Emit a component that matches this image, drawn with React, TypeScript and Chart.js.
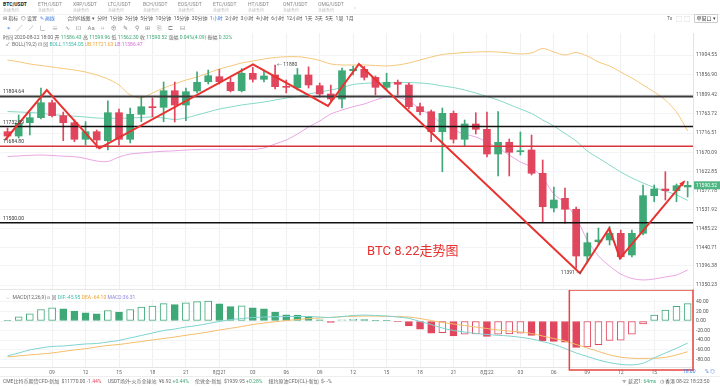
import React, { useEffect, useRef } from 'react';
import { Chart, registerables } from 'chart.js';

Chart.register(...registerables);

const FONT = 'Roboto, "Noto Sans CJK SC", sans-serif';
const GREEN = '#3fa877';
const RED = '#e0465d';

// 1h candles, 2020-08-20 05:00 .. 2020-08-22 18:00
const OPEN = [11719.7, 11709.3, 11741.4, 11753.5, 11789.6, 11758.3, 11741.4, 11701.4, 11719.7, 11698.0, 11765.5, 11701.4, 11761.6, 11779.9, 11778.5, 11818.5, 11784.1, 11817.8, 11840.2, 11852.3, 11838.8, 11818.5, 11860.5, 11846.0, 11856.4, 11828.2, 11825.7, 11856.4, 11830.6, 11810.6, 11798.5, 11866.7, 11870.1, 11850.8, 11826.7, 11838.8, 11832.3, 11779.9, 11767.9, 11719.7, 11764.0, 11701.4, 11738.3, 11725.5, 11666.0, 11694.2, 11671.6, 11675.6, 11619.5, 11535.8, 11559.2, 11532.7, 11420.1, 11454.5, 11458.7, 11474.8, 11422.6, 11474.8, 11565.5, 11581.6, 11577.5, 11586.43];
const HIGH = [11728.6, 11760.0, 11764.8, 11825.0, 11796.1, 11767.2, 11747.9, 11743.8, 11723.8, 11794.4, 11774.4, 11776.8, 11804.0, 11801.0, 11839.5, 11839.5, 11825.0, 11864.3, 11868.4, 11870.0, 11849.1, 11872.0, 11875.0, 11868.4, 11880.4, 11844.3, 11872.0, 11876.0, 11837.1, 11832.3, 11873.2, 11878.0, 11877.0, 11854.0, 11860.5, 11844.3, 11837.1, 11788.9, 11772.0, 11776.8, 11769.6, 11747.9, 11765.5, 11767.2, 11768.0, 11702.1, 11719.0, 11711.8, 11651.5, 11586.4, 11584.0, 11538.2, 11475.6, 11487.6, 11490.7, 11482.8, 11482.8, 11591.2, 11591.2, 11623.3, 11593.7, 11599.96];
const LOW = [11704.5, 11704.5, 11711.8, 11750.3, 11755.1, 11698.0, 11695.6, 11687.7, 11680.4, 11675.6, 11687.7, 11692.5, 11743.8, 11755.8, 11743.8, 11743.1, 11746.2, 11813.0, 11834.7, 11834.7, 11815.4, 11815.4, 11839.5, 11839.5, 11822.6, 11813.0, 11820.2, 11825.0, 11803.3, 11791.3, 11776.8, 11856.4, 11844.3, 11808.2, 11820.2, 11808.2, 11774.4, 11760.0, 11695.6, 11623.3, 11692.5, 11683.6, 11714.2, 11658.7, 11613.0, 11613.0, 11663.6, 11615.4, 11502.8, 11526.2, 11499.0, 11391.0, 11403.3, 11446.7, 11446.7, 11412.9, 11417.7, 11470.8, 11551.0, 11555.1, 11551.0, 11562.30];
const CLOSE = [11709.3, 11739.9, 11753.5, 11789.6, 11758.3, 11741.4, 11701.4, 11719.7, 11699.7, 11765.5, 11701.4, 11761.6, 11779.9, 11777.6, 11818.5, 11784.1, 11816.1, 11838.8, 11854.7, 11840.2, 11818.5, 11860.5, 11846.0, 11854.0, 11828.2, 11826.7, 11856.4, 11832.3, 11810.6, 11798.5, 11866.7, 11870.1, 11850.8, 11826.7, 11838.8, 11834.0, 11779.9, 11767.9, 11719.7, 11764.0, 11701.4, 11738.3, 11725.5, 11666.0, 11694.2, 11670.1, 11674.0, 11619.5, 11539.0, 11555.1, 11532.7, 11420.1, 11452.2, 11458.7, 11474.8, 11418.5, 11474.8, 11565.5, 11581.6, 11577.5, 11589.6, 11590.52];

// BOLL(19,2)
const BOLL_UB = [11892.5, 11888.4, 11882.9, 11879.2, 11875.6, 11872.0, 11868.4, 11863.6, 11856.4, 11846.7, 11832.3, 11808.2, 11800.9, 11813.0, 11825.0, 11834.7, 11844.3, 11851.5, 11861.2, 11870.8, 11878.1, 11885.3, 11890.1, 11894.9, 11898.5, 11900.5, 11900.5, 11897.3, 11891.3, 11882.9, 11880.5, 11880.5, 11880.5, 11879.2, 11878.1, 11880.5, 11885.3, 11892.5, 11899.7, 11905.8, 11908.2, 11910.6, 11911.8, 11912.5, 11911.8, 11909.4, 11907.0, 11909.4, 11920.2, 11911.8, 11904.6, 11910.6, 11902.1, 11887.7, 11878.1, 11863.6, 11849.1, 11832.3, 11815.4, 11796.1, 11767.2, 11721.63];
const BOLL_MB = [11768.4, 11767.2, 11766.0, 11764.0, 11761.2, 11758.8, 11757.1, 11755.1, 11752.7, 11752.0, 11752.0, 11752.7, 11753.9, 11755.1, 11752.7, 11749.1, 11752.7, 11760.0, 11767.2, 11774.4, 11779.2, 11784.1, 11787.7, 11791.3, 11796.1, 11800.9, 11804.5, 11810.6, 11815.4, 11820.2, 11826.2, 11833.5, 11836.3, 11837.1, 11837.1, 11838.3, 11838.3, 11837.1, 11834.7, 11829.9, 11826.2, 11820.2, 11813.0, 11804.5, 11796.1, 11785.3, 11774.4, 11763.6, 11747.9, 11733.4, 11715.4, 11697.3, 11673.2, 11656.3, 11639.5, 11622.6, 11608.1, 11596.1, 11585.2, 11576.8, 11567.2, 11554.05];
const BOLL_LB = [11660.0, 11661.2, 11662.8, 11663.6, 11662.4, 11660.7, 11659.5, 11655.1, 11649.1, 11647.9, 11658.7, 11666.0, 11668.4, 11670.8, 11672.5, 11673.7, 11675.6, 11676.8, 11677.3, 11677.3, 11677.3, 11677.3, 11676.8, 11680.4, 11690.1, 11699.7, 11714.2, 11731.0, 11745.5, 11762.4, 11772.0, 11780.0, 11786.5, 11796.1, 11803.3, 11802.1, 11793.7, 11774.4, 11760.0, 11738.3, 11723.8, 11714.2, 11707.0, 11694.9, 11680.4, 11663.6, 11646.7, 11634.7, 11608.1, 11569.6, 11547.9, 11511.7, 11458.7, 11420.1, 11396.0, 11376.7, 11365.9, 11362.3, 11364.7, 11369.5, 11374.3, 11386.47];

// MACD(12,26,9)
const MACD_HIST = [1, 9, 15, 24, 27.5, 25.4, 20.6, 17, 15, 22, 18.6, 24, 28.9, 31, 36.4, 34.4, 37.8, 40.5, 41.5, 35.7, 30.2, 31.6, 27.5, 25.4, 18.6, 13, 12.5, 9.6, 2.7, -2.7, 2.7, 3.7, 3.2, 0.8, 0.5, -1.5, -10.3, -17, -25.4, -24.5, -31, -27.5, -27, -32.3, -27.5, -27, -25.4, -30.2, -41.2, -42.6, -44, -55, -54, -49.5, -40.5, -40, -27.5, -6.2, 12.4, 22.7, 30.9, 36.31];
const DIF = [-72.9, -66.7, -60.4, -56.3, -53.1, -52.1, -50, -47.9, -46.9, -43.8, -40.6, -35.4, -30.2, -25, -19.8, -16.7, -12.5, -9.4, -5.2, -1, 3.1, 5.2, 7.3, 8.3, 9, 9.4, 9.4, 9.4, 8.3, 7.3, 9.4, 11.5, 12.5, 11.5, 10.4, 8.3, 5.6, -1, -7.3, -14.6, -19.8, -22.9, -26, -28.1, -29.8, -31.3, -34, -37.5, -43.1, -49, -57.3, -66.7, -74, -81.3, -86.9, -90.6, -91.7, -88.1, -77.1, -66.7, -56.9, -45.95];
const DEA = [-75, -72.9, -70.8, -68.8, -66.7, -63.5, -60.4, -57.7, -54.2, -51, -49, -45.8, -42.7, -39.6, -36.5, -33.3, -29.8, -26.5, -22.9, -18.8, -15.2, -11.5, -7.3, -4.2, -1.5, 1, 3.1, 5.2, 6.3, 7.7, 9, 9.8, 10.4, 10.4, 9.8, 9.4, 8.3, 5.2, 1, -3.1, -6.3, -9.4, -12.5, -15.6, -18.8, -20.8, -22.9, -26, -31.3, -36.5, -41.7, -49, -56.3, -63.5, -70.8, -75.6, -77.7, -78.1, -77.7, -76, -70.8, -64.1];

const PRICE_TICKS = [11904.55, 11856.90, 11809.42, 11763.72, 11716.51, 11670.09, 11622.85, 11577.78, 11531.92, 11485.22, 11440.71, 11396.38, 11350.23];
const MACD_TICKS = [40, 20, 0, -20, -40, -60, -80];
const TIME_TICK_INDEX = [4, 7, 10, 13, 16, 19, 22, 25, 28, 31, 34, 37, 40, 43, 46, 49, 52, 55, 58];
const TIME_TICK_LABELS = ['09', '12', '15', '18', '21', '8月21', '03', '06', '09', '12', '15', '18', '21', '8月22', '03', '06', '09', '12', '15'];

// drawn annotations
const LEVELS = [11804.64, 11732.09, 11684.80, 11500.00];
const LEVEL_COLORS = ['#3a3a3a', '#111111', '#d8343c', '#111111'];
const LEVEL_WIDTHS = [2, 1.5, 1.5, 1.5];
const ZZ_X = [-0.22, 3.52, 8.23, 22.02, 28.74, 31.52, 51.34, 53.97, 54.93, 60.67];
const ZZ_Y = [11699.7, 11820.2, 11679.7, 11882.1, 11781.7, 11882.9, 11378.4, 11486.9, 11414.6, 11599.2];
const BOX_START = 50.39;

const X_MIN = -0.673;
const X_MAX = 61.48;
const Y_MIN = 11340.6;
const Y_MAX = 11957.6;
const MACD_MIN = -96;
const MACD_MAX = 46;

const noPad = (s: any) => {
  s.paddingTop = 0;
  s.paddingBottom = 0;
  s.paddingLeft = 0;
  s.paddingRight = 0;
};

const mainOverlay = {
  id: 'mainOverlay',
  afterDatasetsDraw(chart: any) {
    const { ctx, scales } = chart;
    const xs = scales.x, ys = scales.y;
    ctx.save();
    ctx.font = `5px ${FONT}`;
    ctx.textAlign = 'left';
    ctx.textBaseline = 'alphabetic';
    LEVELS.forEach((lv) => {
      ctx.fillStyle = '#333';
      ctx.fillText(lv.toFixed(2), 3, ys.getPixelForValue(lv) - 3);
    });
    const hi = HIGH.indexOf(Math.max(...HIGH));
    ctx.fillStyle = '#444';
    ctx.textBaseline = 'middle';
    ctx.fillText('← ' + HIGH[hi].toFixed(0), xs.getPixelForValue(hi) + 2, ys.getPixelForValue(HIGH[hi]));
    const lo = LOW.indexOf(Math.min(...LOW));
    ctx.textAlign = 'right';
    ctx.textBaseline = 'top';
    ctx.fillText(LOW[lo].toFixed(0) + ' →', xs.getPixelForValue(lo) + 5, ys.getPixelForValue(LOW[lo]) + 2);
    const n = ZZ_X.length;
    const x1 = xs.getPixelForValue(ZZ_X[n - 2]), y1 = ys.getPixelForValue(ZZ_Y[n - 2]);
    const x2 = xs.getPixelForValue(ZZ_X[n - 1]), y2 = ys.getPixelForValue(ZZ_Y[n - 1]);
    const a = Math.atan2(y2 - y1, x2 - x1);
    ctx.fillStyle = '#e8322f';
    ctx.beginPath();
    ctx.moveTo(x2 + Math.cos(a) * 2, y2 + Math.sin(a) * 2);
    ctx.lineTo(x2 - Math.cos(a - 0.5) * 5, y2 - Math.sin(a - 0.5) * 5);
    ctx.lineTo(x2 - Math.cos(a + 0.5) * 5, y2 - Math.sin(a + 0.5) * 5);
    ctx.closePath();
    ctx.fill();
    ctx.restore();
  },
  afterDraw(chart: any) {
    const { ctx, scales } = chart;
    const last = CLOSE.length - 1;
    const ys = scales.y;
    const y = ys.getPixelForValue(CLOSE[last]);
    ctx.save();
    ctx.fillStyle = '#4db683';
    ctx.fillRect(ys.left + 1, y - 4, 26, 8);
    ctx.fillStyle = '#fff';
    ctx.font = `5px ${FONT}`;
    ctx.textBaseline = 'middle';
    ctx.textAlign = 'left';
    ctx.fillText(CLOSE[last].toFixed(2), ys.left + 3, y);
    ctx.restore();
  },
};

const macdOverlay = {
  id: 'macdOverlay',
  afterDraw(chart: any) {
    const { ctx, scales } = chart;
    const xs = scales.x, ys = scales.y;
    const bottom = ys.getPixelForValue(MACD_MIN);
    ctx.save();
    ctx.font = `5px ${FONT}`;
    ctx.fillStyle = '#666';
    ctx.textAlign = 'center';
    ctx.textBaseline = 'top';
    TIME_TICK_INDEX.forEach((v, k) => {
      ctx.fillText(TIME_TICK_LABELS[k], xs.getPixelForValue(v), bottom + 3);
    });
    const left = xs.getPixelForValue(BOX_START);
    ctx.strokeStyle = '#e8443f';
    ctx.lineWidth = 1.5;
    ctx.strokeRect(left, 1, ys.left - left, bottom + 2);
    ctx.restore();
  },
};

const T = (p: { x: number; y: number; s?: number; c?: string; w?: number; children: any }) => (
  <div
    style={{
      position: 'absolute',
      left: p.x,
      top: p.y,
      fontSize: p.s || 5,
      color: p.c || '#555',
      fontWeight: p.w || 400,
      whiteSpace: 'nowrap',
      lineHeight: 1,
    }}
  >
    {p.children}
  </div>
);

const TABS = ['BTC/USDT', 'ETH/USDT', 'XRP/USDT', 'LTC/USDT', 'BCH/USDT', 'EOS/USDT', 'ETC/USDT', 'HT/USDT', 'ONT/USDT', 'OMG/USDT'];
const PERIODS = ['分时', '1分钟', '3分钟', '5分钟', '10分钟', '15分钟', '30分钟', '1小时', '2小时', '3小时', '4小时', '6小时', '12小时', '1天', '3天', '5天', '1周', '1月'];
const TOOLS = ['⌖', '╱', '⟋', '∟', '≡', '∿', '⊡', 'Aa', '⌗', '⊕', '✎', '⚲', '⊞', '⎘', '⊏', '⊟'];

export default function App() {
  const mainRef = useRef<HTMLCanvasElement>(null);
  const macdRef = useRef<HTMLCanvasElement>(null);

  useEffect(() => {
    document.body.style.margin = '0';
    const idx = OPEN.map((_, i) => i);
    const candleColors = idx.map((i) => (CLOSE[i] >= OPEN[i] ? GREEN : RED));
    const line = (arr: number[], color: string, order: number) => ({
      type: 'line' as const,
      data: idx.map((i) => ({ x: i, y: arr[i] })),
      borderColor: color,
      borderWidth: 1,
      pointRadius: 0,
      tension: 0.3,
      order,
    });

    const main = new Chart(mainRef.current!, {
      type: 'line',
      data: {
        datasets: [
          {
            type: 'line',
            data: ZZ_X.map((x, k) => ({ x, y: ZZ_Y[k] })),
            borderColor: '#e8322f',
            borderWidth: 2,
            pointRadius: 0,
            tension: 0,
            order: 0,
          },
          ...LEVELS.map((lv, k) => ({
            type: 'line' as const,
            data: [
              { x: X_MIN - 1, y: lv },
              { x: X_MAX + 1, y: lv },
            ],
            borderColor: LEVEL_COLORS[k],
            borderWidth: LEVEL_WIDTHS[k],
            pointRadius: 0,
            order: 1,
          })),
          {
            type: 'bar',
            data: idx.map((i) => ({ x: i, y: [OPEN[i], CLOSE[i]] })),
            backgroundColor: candleColors,
            borderWidth: 0,
            barThickness: 7,
            minBarLength: 1,
            grouped: false,
            order: 2,
          } as any,
          {
            type: 'bar',
            data: idx.map((i) => ({ x: i, y: [LOW[i], HIGH[i]] })),
            backgroundColor: candleColors,
            borderWidth: 0,
            barThickness: 1,
            grouped: false,
            order: 3,
          } as any,
          line(BOLL_UB, '#f6c77a', 4),
          line(BOLL_MB, '#86d8c6', 4),
          line(BOLL_LB, '#eaa5e3', 4),
        ],
      },
      options: {
        animation: false,
        responsive: false,
        maintainAspectRatio: false,
        events: [],
        layout: { padding: 0, autoPadding: false },
        plugins: { legend: { display: false }, tooltip: { enabled: false } },
        scales: {
          x: {
            type: 'linear',
            min: X_MIN,
            max: X_MAX,
            offset: false,
            afterBuildTicks: (s: any) => {
              s.ticks = TIME_TICK_INDEX.map((v) => ({ value: v }));
            },
            ticks: { display: false },
            grid: { color: '#eef0f3', offset: false, tickLength: 0, tickColor: 'transparent' },
            border: { display: false },
            afterFit: (s: any) => {
              s.height = 0;
              noPad(s);
            },
          },
          y: {
            position: 'right',
            min: Y_MIN,
            max: Y_MAX,
            afterBuildTicks: (s: any) => {
              s.ticks = PRICE_TICKS.map((v) => ({ value: v }));
            },
            ticks: {
              font: { size: 5, family: FONT },
              color: '#555',
              callback: (v: any) => Number(v).toFixed(2),
            },
            grid: { color: '#f3f4f6', tickLength: 0, tickColor: 'transparent' },
            border: { color: '#e3e3e3' },
            afterFit: (s: any) => {
              s.width = 27;
              noPad(s);
            },
          },
        },
      } as any,
      plugins: [mainOverlay],
    });

    const histFill = idx.map((i) => {
      const v = MACD_HIST[i];
      const prev = i > 0 ? MACD_HIST[i - 1] : v;
      return v > prev ? '#ffffff' : v >= 0 ? GREEN : RED;
    });
    const histBorder = idx.map((i) => (MACD_HIST[i] >= 0 ? GREEN : RED));

    const macd = new Chart(macdRef.current!, {
      type: 'line',
      data: {
        datasets: [
          { type: 'line', data: idx.map((i) => ({ x: i, y: DIF[i] })), borderColor: '#7dd3cf', borderWidth: 1, pointRadius: 0, tension: 0.3, order: 0 },
          { type: 'line', data: idx.map((i) => ({ x: i, y: DEA[i] })), borderColor: '#f4bd6a', borderWidth: 1, pointRadius: 0, tension: 0.3, order: 0 },
          {
            type: 'bar',
            data: idx.map((i) => ({ x: i, y: MACD_HIST[i] })),
            backgroundColor: histFill,
            borderColor: histBorder,
            borderWidth: 1,
            borderSkipped: false,
            barThickness: 7,
            grouped: false,
            order: 1,
          } as any,
        ],
      },
      options: {
        animation: false,
        responsive: false,
        maintainAspectRatio: false,
        events: [],
        layout: { padding: { top: 10, left: 0, right: 0, bottom: 9 }, autoPadding: false },
        plugins: { legend: { display: false }, tooltip: { enabled: false } },
        scales: {
          x: {
            type: 'linear', min: X_MIN, max: X_MAX, offset: false,
            afterBuildTicks: (s: any) => { s.ticks = TIME_TICK_INDEX.map((v) => ({ value: v })); },
            ticks: { display: false },
            grid: { color: '#eef0f3', offset: false, tickLength: 0, tickColor: 'transparent' },
            border: { color: '#e3e3e3' },
            afterFit: (s: any) => { s.height = 0; noPad(s); },
          },
          y: {
            position: 'right', min: MACD_MIN, max: MACD_MAX,
            afterBuildTicks: (s: any) => { s.ticks = MACD_TICKS.map((v) => ({ value: v })); },
            ticks: { font: { size: 5, family: FONT }, color: '#555', callback: (v: any) => Number(v).toFixed(2) },
            grid: { color: '#f3f4f6', tickLength: 0, tickColor: 'transparent' },
            border: { color: '#e3e3e3' },
            afterFit: (s: any) => { s.width = 27; noPad(s); },
          },
        },
      } as any,
      plugins: [macdOverlay],
    });

    return () => {
      main.destroy();
      macd.destroy();
    };
  }, []);

  return (
    <div
      style={{
        position: 'relative',
        width: 720,
        height: 388,
        overflow: 'hidden',
        background: '#fff',
        fontFamily: FONT,
      }}
    >
      <canvas ref={mainRef} width={720} height={256} style={{ position: 'absolute', left: 0, top: 33, width: 720, height: 256 }} />
      <canvas ref={macdRef} width={720} height={87} style={{ position: 'absolute', left: 0, top: 289, width: 720, height: 87 }} />
      <div style={{ position: 'absolute', left: 0, top: 289, width: 693, height: 1, background: '#e6e6e6' }} />

      {TABS.map((t, k) => (
        <React.Fragment key={t}>
          <T x={3 + k * 35} y={2} s={5} c={k === 0 ? '#222' : '#888'} w={k === 0 ? 700 : 400}>{t}</T>
          <T x={3 + k * 35} y={8.5} s={4} c="#bbb">永续合约</T>
        </React.Fragment>
      ))}
      <T x={354} y={4} s={6} c="#bbb">›</T>
      <div style={{ position: 'absolute', left: 0, top: 14, width: 720, height: 1, background: '#f0f0f0' }} />

      <div style={{ position: 'absolute', left: 3, top: 16, display: 'flex', gap: 2.5, fontSize: 5, color: '#555', whiteSpace: 'nowrap', lineHeight: 1 }}>
        <span>⊟ 指标</span>
        <span>◎ 设置</span>
        <span style={{ color: '#3d7be0' }}>✎ 画线</span>
        <span style={{ marginLeft: 10 }}>合约K线图 ▾</span>
        {PERIODS.map((p) => (
          <span key={p} style={{ color: p === '1小时' ? '#3d7be0' : '#555' }}>{p}</span>
        ))}
      </div>
      <T x={667} y={16} s={5} c="#666">Tx</T>
      <T x={676} y={15.5} s={6} c="#888">⬚</T>
      <T x={684} y={15.5} s={6} c="#888">⬚</T>
      <div style={{ position: 'absolute', left: 694, top: 14, width: 22, height: 7, border: '1px solid #ccc', borderRadius: 1, fontSize: 5, lineHeight: '7px', color: '#333', textAlign: 'center' }}>单窗口 ▾</div>

      <div style={{ position: 'absolute', left: 7, top: 25, display: 'flex', gap: 6.5, fontSize: 6, color: '#888', whiteSpace: 'nowrap', lineHeight: 1 }}>
        {TOOLS.map((t, k) => (
          <span key={k} style={{ color: k === 0 ? '#3d7be0' : '#888' }}>{t}</span>
        ))}
      </div>

      <div style={{ position: 'absolute', left: 3, top: 35, fontSize: 5, color: '#666', whiteSpace: 'nowrap', lineHeight: 1 }}>
        时间 2020-08-22 18:00 开 <span style={{ color: GREEN }}>11586.43</span> 高 <span style={{ color: GREEN }}>11599.96</span> 低{' '}
        <span style={{ color: GREEN }}>11562.30</span> 收 <span style={{ color: GREEN }}>11590.52</span> 涨幅{' '}
        <span style={{ color: GREEN }}>0.04%(4.09)</span> 振幅 <span style={{ color: GREEN }}>0.32%</span>
      </div>
      <div style={{ position: 'absolute', left: 6, top: 42, fontSize: 5, color: '#666', whiteSpace: 'nowrap', lineHeight: 1 }}>
        ✓ &nbsp;BOLL(19,2) ⊡ ⊠ <span style={{ color: '#3cb9b0' }}>BOLL:11554.05</span>{' '}
        <span style={{ color: '#eaa530' }}>UB:11721.63</span> <span style={{ color: '#d56bd6' }}>LB:11386.47</span>
      </div>

      <div style={{ position: 'absolute', left: 6, top: 294.5, fontSize: 5, color: '#666', whiteSpace: 'nowrap', lineHeight: 1 }}>
        ⌵ &nbsp;MACD(12,26,9) ⊡ ⊠ <span style={{ color: '#3cb9b0' }}>DIF:-45.95</span>{' '}
        <span style={{ color: '#eaa530' }}>DEA:-64.10</span> <span style={{ color: '#8f86dc' }}>MACD:36.31</span>
      </div>

      <div style={{ position: 'absolute', left: 367, top: 244, fontSize: 13, color: '#e8322f', whiteSpace: 'nowrap', lineHeight: 1 }}>
        BTC 8.22走势图
      </div>

      <T x={683} y={369} s={5} c="#3d7be0">18:00</T>
      <T x={705} y={369} s={5} c="#3d7be0">%  ◎</T>

      <div style={{ position: 'absolute', left: 0, top: 376, width: 720, height: 1, background: '#eee' }} />
      <div style={{ position: 'absolute', left: 3, top: 379, fontSize: 5, color: '#666', whiteSpace: 'nowrap', lineHeight: 1 }}>
        CME比特币期货CFD-新加&nbsp; $11770.00 <span style={{ color: RED }}>-1.44%</span>
        &nbsp;&nbsp;&nbsp;&nbsp; USDT场外-火币全球站&nbsp; ¥6.92 <span style={{ color: GREEN }}>+0.44%</span>
        &nbsp;&nbsp;&nbsp;&nbsp; 伦敦金-新加&nbsp; $1939.95 <span style={{ color: GREEN }}>+0.28%</span>
        &nbsp;&nbsp;&nbsp;&nbsp; 纽约原油CFD(CL)-新加&nbsp; $- -%
      </div>
      <div style={{ position: 'absolute', left: 622, top: 379, fontSize: 5, color: '#666', whiteSpace: 'nowrap', lineHeight: 1 }}>
        ᯤ 延迟1: <span style={{ color: GREEN }}>64ms</span>&nbsp;&nbsp; ◷ 香港 08-22 18:23:50
      </div>
    </div>
  );
}
